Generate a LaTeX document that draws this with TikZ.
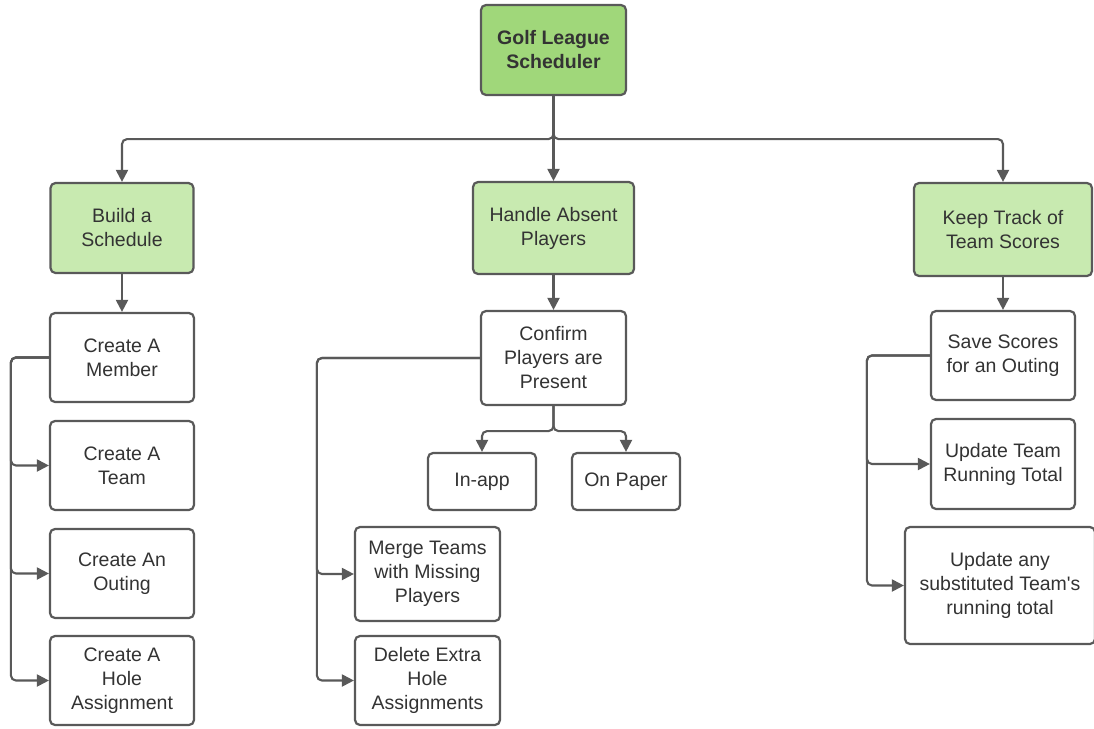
\documentclass[tikz,border=0pt]{standalone}
\usepackage{fontspec}
\setmainfont{Liberation Sans}
\usetikzlibrary{arrows.meta}
\definecolor{edgegray}{HTML}{595959}
\definecolor{txtgray}{HTML}{333333}
\definecolor{rootgreen}{HTML}{A0D77A}
\definecolor{lightgreen}{HTML}{C8EAB0}
\tikzset{
  box/.style={draw=edgegray, line width=2.2pt, rounded corners=5pt, fill=white,
    align=center, text=txtgray, font=\fontsize{19.5}{24}\selectfont, inner sep=2pt},
  rootbox/.style={box, fill=rootgreen, font=\fontsize{19.5}{24}\selectfont\bfseries},
  catbox/.style={box, fill=lightgreen},
  conn/.style={draw=edgegray, line width=2.1pt, rounded corners=5pt,
    -{Triangle[length=12pt,width=12pt]}},
}
\begin{document}
\begin{tikzpicture}[x=1pt,y=-1pt]
\useasboundingbox (0,0) rectangle (1094,728);
% nodes
\node[rootbox, minimum width=145pt, minimum height=90pt] (root) at (553.5,50) {Golf League\\Scheduler};
\node[catbox, minimum width=143pt, minimum height=90pt] (build) at (122,228) {Build a\\Schedule};
\node[catbox, minimum width=161pt, minimum height=92pt] (handle) at (553.5,228) {Handle Absent\\Players};
\node[catbox, minimum width=178pt, minimum height=93pt] (keep) at (1003,229.5) {Keep Track of\\Team Scores};
\node[box, minimum width=144pt, minimum height=89pt] (member) at (122,357.5) {Create A\\Member};
\node[box, minimum width=144pt, minimum height=89pt] (team) at (122,465.5) {Create A\\Team};
\node[box, minimum width=144pt, minimum height=89pt] (outing) at (122,573.5) {Create An\\Outing};
\node[box, minimum width=144pt, minimum height=89pt] (hole) at (122,680.5) {Create A\\Hole\\Assignment};
\node[box, minimum width=145pt, minimum height=94pt] (confirm) at (553.5,358) {Confirm\\Players are\\Present};
\node[box, minimum width=108pt, minimum height=57pt] (inapp) at (482,481.5) {In-app};
\node[box, minimum width=108pt, minimum height=57pt] (onpaper) at (626,481.5) {On Paper};
\node[box, minimum width=145pt, minimum height=94pt] (merge) at (427.5,574) {Merge Teams\\with Missing\\Players};
\node[box, minimum width=145pt, minimum height=89pt] (delete) at (427.5,680.5) {Delete Extra\\Hole\\Assignments};
\node[box, minimum width=144pt, minimum height=89pt] (save) at (1003,355.5) {Save Scores\\for an Outing};
\node[box, minimum width=144pt, minimum height=90pt] (updteam) at (1003,464) {Update Team\\Running Total};
\node[box, minimum width=190pt, minimum height=117pt] (updany) at (1000,585.5) {Update any\\substituted Team\textquotesingle s\\running total};
% connectors from root
\draw[conn] (root.south) -- ++(0,43) -| (build.north);
\draw[conn] (root.south) -- (handle.north);
\draw[conn] (root.south) -- ++(0,43) -| (keep.north);
% build column
\draw[conn] (build.south) -- (member.north);
\draw[conn] (member.west) -- ++(-38,0) |- (team.west);
\draw[conn] (member.west) -- ++(-38,0) |- (outing.west);
\draw[conn] (member.west) -- ++(-38,0) |- (hole.west);
% handle column
\draw[conn] (handle.south) -- (confirm.north);
\draw[conn] (confirm.south) -- ++(0,25) -| (inapp.north);
\draw[conn] (confirm.south) -- ++(0,25) -| (onpaper.north);
\draw[conn] (confirm.west) -- ++(-163,0) |- (merge.west);
\draw[conn] (confirm.west) -- ++(-163,0) |- (delete.west);
% keep column
\draw[conn] (keep.south) -- (save.north);
\draw[conn] (save.west) -- ++(-63,0) |- (updteam.west);
\draw[conn] (save.west) -- ++(-63,0) |- (updany.west);
\end{tikzpicture}
\end{document}
